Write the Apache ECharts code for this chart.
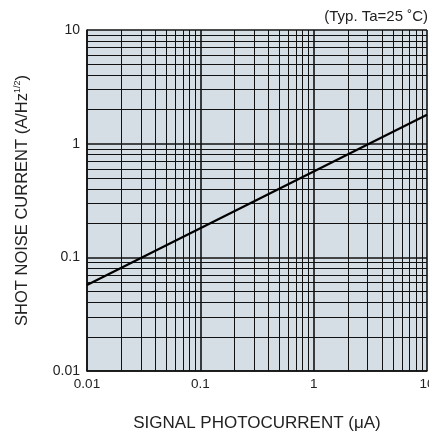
<!DOCTYPE html>
<html>
<head>
<meta charset="utf-8">
<script src="https://cdn.jsdelivr.net/npm/echarts@6/dist/echarts.min.js"></script>
<style>
  html, body { margin: 0; padding: 0; background: #fff; }
  #chart { width: 429px; height: 434px; }
</style>
</head>
<body>
<div id="chart"></div>
<script>
// signal photocurrent (uA) vs shot noise current
const currentUA = [0.01, 1, 10];
const shotNoise = [0.057, 0.57, 1.8];
const decades = [0.01, 0.1, 1];
const minorSteps = [2, 3, 4, 5, 6, 7, 8, 9];
const tickLabels = { 0.01: '0.01', 0.1: '0.1', 1: '1', 10: '10' };

const font = 'Liberation Sans, Arial, sans-serif';

let minorVals = [];
decades.forEach(d => minorSteps.forEach(m => minorVals.push(+(d * m).toPrecision(3))));

const minorLines = [];
minorVals.forEach(v => {
  minorLines.push({ xAxis: v });
  minorLines.push({ yAxis: v });
});

const chart = echarts.init(document.getElementById('chart'));
chart.setOption({
  animation: false,
  title: {
    text: '(Typ. Ta=25 ˚C)',
    right: 1,
    top: 9,
    padding: 0,
    textStyle: { fontFamily: font, fontSize: 15, fontWeight: 'normal', color: '#222' }
  },
  grid: {
    left: 87, right: 2, top: 30, bottom: 63,
    outerBoundsMode: 'none',
    show: true, backgroundColor: '#d6dee5', borderWidth: 0
  },
  xAxis: {
    type: 'log',
    min: 0.01,
    max: 10,
    logBase: 10,
    name: 'SIGNAL PHOTOCURRENT (μA)',
    nameLocation: 'middle',
    nameGap: 44,
    nameTextStyle: { fontFamily: font, fontSize: 17, color: '#222' },
    axisLine: { show: true, onZero: false, lineStyle: { color: '#111', width: 1.5 } },
    axisTick: { show: false },
    axisLabel: {
      fontFamily: font, fontSize: 13.5, color: '#222', margin: 6,
      formatter: v => tickLabels[+v.toPrecision(3)] || ''
    },
    splitLine: { show: true, lineStyle: { color: '#111', width: 1.6 } }
  },
  yAxis: {
    type: 'log',
    min: 0.01,
    max: 10,
    logBase: 10,
    name: '{n|SHOT NOISE CURRENT (A/Hz}{s|1/2}{n|)}',
    nameLocation: 'middle',
    nameGap: 56,
    nameRotate: 90,
    nameTextStyle: {
      rich: {
        n: { fontFamily: font, fontSize: 16.5, color: '#222' },
        s: { fontFamily: font, fontSize: 9, color: '#222', padding: [0, 0, 9, 0] }
      }
    },
    axisLine: { show: true, onZero: false, lineStyle: { color: '#111', width: 1.5 } },
    axisTick: { show: false },
    axisLabel: {
      fontFamily: font, fontSize: 14, color: '#222', margin: 7,
      formatter: v => tickLabels[+v.toPrecision(3)] || ''
    },
    splitLine: { show: true, lineStyle: { color: '#111', width: 1.6 } }
  },
  series: [
    {
      type: 'line',
      data: currentUA.map((x, i) => [x, shotNoise[i]]),
      showSymbol: false,
      lineStyle: { color: '#000', width: 2.2 },
      z: 5,
      markLine: {
        silent: true,
        symbol: 'none',
        label: { show: false },
        lineStyle: { color: '#111', width: 1, type: 'solid' },
        data: minorLines
      }
    }
  ]
});
</script>
</body>
</html>
